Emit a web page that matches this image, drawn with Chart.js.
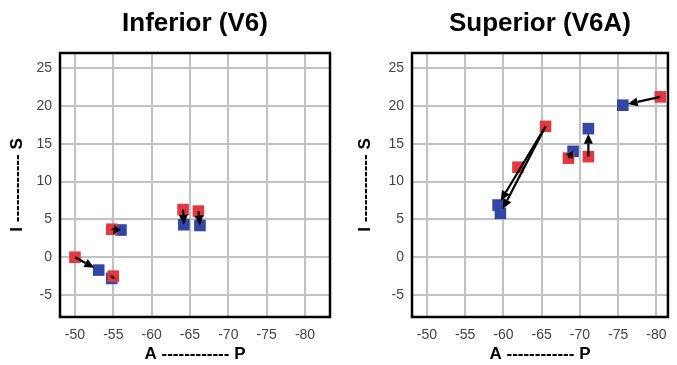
<!DOCTYPE html>
<html>
<head>
<meta charset="utf-8">
<script src="https://cdn.jsdelivr.net/npm/chart.js@4.4.0/dist/chart.umd.min.js"></script>
<style>
  body { margin: 0; background: #fff; }
  #chartLeft { position: absolute; left: 0; top: 0; }
  #chartRight { position: absolute; left: 340px; top: 0; }
</style>
</head>
<body>
<canvas id="chartLeft" width="340" height="365"></canvas>
<canvas id="chartRight" width="337" height="365"></canvas>
<script>
const xTicks = [-50, -55, -60, -65, -70, -75, -80];
const yTicks = [-5, 0, 5, 10, 15, 20, 25];

// Inferior (V6): red = start, blue = end
const infRedX = [-50, -55, -54.8, -64.1, -66.1];
const infRedY = [0, -2.5, 3.7, 6.3, 6.1];
const infBlueX = [-53.1, -54.8, -56.0, -64.2, -66.3];
const infBlueY = [-1.7, -2.8, 3.6, 4.3, 4.2];
const infPairs = [0, 1, 2, 3, 4];

// Superior (V6A)
const supRedX = [-80.5, -65.5, -61.9, -68.5, -71.1];
const supRedY = [21.2, 17.3, 11.9, 13.1, 13.3];
const supBlueX = [-75.6, -59.6, -59.3, -69.1, -71.1];
const supBlueY = [20.1, 5.8, 6.9, 14.0, 17.0];
const supPairs = [0, 1, 1, 3, 4];

const red = '#e1393f';
const blue = '#3346a6';

function pts(xs, ys) {
  return xs.map((x, i) => ({x: x, y: ys[i]}));
}

const framePlugin = {
  id: 'frame',
  afterDraw(chart) {
    const a = chart.chartArea;
    const ctx = chart.ctx;
    ctx.save();
    ctx.strokeStyle = '#000';
    ctx.lineWidth = 2.5;
    ctx.strokeRect(a.left, a.top, a.right - a.left, a.bottom - a.top);
    ctx.restore();
  }
};

const arrowPlugin = {
  id: 'arrows',
  afterDatasetsDraw(chart, args, opts) {
    const ctx = chart.ctx;
    const sx = chart.scales.x, sy = chart.scales.y;
    const from = chart.data.datasets[0].data;
    const to = chart.data.datasets[1].data;
    ctx.save();
    ctx.strokeStyle = '#000';
    ctx.fillStyle = '#000';
    ctx.lineWidth = 2.2;
    to.forEach((p, i) => {
      const s = from[opts.pairs[i]];
      const x0 = sx.getPixelForValue(s.x), y0 = sy.getPixelForValue(s.y);
      const x1 = sx.getPixelForValue(p.x), y1 = sy.getPixelForValue(p.y);
      const len = Math.hypot(x1 - x0, y1 - y0);
      if (len < 2) return;
      const ux = (x1 - x0) / len, uy = (y1 - y0) / len;
      const back = len > 16 ? 5 : 0;
      const tx = x1 - ux * back, ty = y1 - uy * back;
      const head = Math.min(10, len * 0.8);
      const bx = tx - ux * head, by = ty - uy * head;
      ctx.beginPath();
      ctx.moveTo(x0, y0);
      ctx.lineTo(bx, by);
      ctx.stroke();
      ctx.beginPath();
      ctx.moveTo(tx, ty);
      ctx.lineTo(bx - uy * 4.5, by + ux * 4.5);
      ctx.lineTo(bx + uy * 4.5, by - ux * 4.5);
      ctx.closePath();
      ctx.fill();
    });
    ctx.restore();
  }
};

function makeConfig(title, redPts, bluePts, pairs, xMin, padLeft, padRight) {
  return {
    type: 'scatter',
    data: {
      datasets: [
        {data: redPts, backgroundColor: red, borderColor: red, borderWidth: 0, pointStyle: 'rect', pointRadius: 8.2},
        {data: bluePts, backgroundColor: blue, borderColor: blue, borderWidth: 0, pointStyle: 'rect', pointRadius: 8.2}
      ]
    },
    options: {
      responsive: false,
      animation: false,
      layout: {padding: {left: padLeft, right: padRight, top: 0, bottom: 0}},
      plugins: {
        legend: {display: false},
        tooltip: {enabled: false},
        title: {
          display: true,
          text: title,
          fullSize: false,
          color: '#000',
          font: {family: 'Liberation Sans, Arial, sans-serif', size: 26, weight: 'bold'},
          padding: {top: 8.4, bottom: 13.4}
        },
        arrows: {pairs: pairs}
      },
      scales: {
        x: {
          type: 'linear',
          reverse: true,
          min: xMin,
          max: -48.05,
          afterBuildTicks: (s) => { s.ticks = xTicks.map(v => ({value: v})); },
          afterFit: (s) => { s.height = 48; },
          grid: {color: '#c2c2c2', lineWidth: 2, drawTicks: false},
          border: {display: false},
          ticks: {color: '#444', padding: 10, font: {family: 'Liberation Sans, Arial, sans-serif', size: 14}},
          title: {
            display: true,
            text: 'A ------------ P',
            color: '#000',
            padding: {top: 0, bottom: 0},
            font: {family: 'Liberation Sans, Arial, sans-serif', size: 17, weight: 'bold'}
          }
        },
        y: {
          type: 'linear',
          min: -7.9,
          max: 27,
          afterBuildTicks: (s) => { s.ticks = yTicks.map(v => ({value: v})); },
          afterFit: (s) => { s.width = padLeft > 0 ? 64 : 60; },
          grid: {color: '#c2c2c2', lineWidth: 2, drawTicks: false},
          border: {display: false},
          ticks: {color: '#444', padding: 8, font: {family: 'Liberation Sans, Arial, sans-serif', size: 14}},
          title: {
            display: true,
            text: 'I ------------ S',
            color: '#000',
            padding: {top: 7, bottom: 0},
            font: {family: 'Liberation Sans, Arial, sans-serif', size: 17, weight: 'bold'}
          }
        }
      }
    },
    plugins: [framePlugin, arrowPlugin]
  };
}

new Chart(document.getElementById('chartLeft'),
  makeConfig('Inferior (V6)', pts(infRedX, infRedY), pts(infBlueX, infBlueY), infPairs, -83.26, 0, 10));
new Chart(document.getElementById('chartRight'),
  makeConfig('Superior (V6A)', pts(supRedX, supRedY), pts(supBlueX, supBlueY), supPairs, -81.5, 8, 1));
</script>
</body>
</html>
